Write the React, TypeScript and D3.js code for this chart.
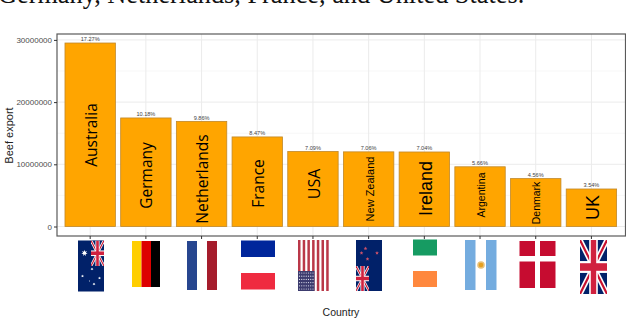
import React, { useEffect, useRef } from 'react';
import * as d3 from 'd3';

const countries = ['Australia', 'Germany', 'Netherlands', 'France', 'USA', 'New Zealand', 'Ireland', 'Argentina', 'Denmark', 'UK'];
const exports_ = [29500000, 17450000, 16900000, 14400000, 12060000, 12000000, 11980000, 9600000, 7700000, 6030000];
const shares = ['17.27%', '10.18%', '9.86%', '8.47%', '7.09%', '7.06%', '7.04%', '5.66%', '4.56%', '3.54%'];
const yTicks = [0, 10000000, 20000000, 30000000];
const yMinor = [5000000, 15000000, 25000000];

// in-bar label look, hand tuned per country like the original
const labelLook: Record<string, { mid: number; size: number; font: string }> = {
  Australia: { mid: 135, size: 15.5, font: 'Open Sans' },
  Germany: { mid: 175.5, size: 15.5, font: 'Open Sans' },
  Netherlands: { mid: 179, size: 15.5, font: 'Open Sans' },
  France: { mid: 183.5, size: 15.5, font: 'Open Sans' },
  USA: { mid: 184, size: 16, font: 'Open Sans' },
  'New Zealand': { mid: 189, size: 11, font: 'Liberation Sans' },
  Ireland: { mid: 188.5, size: 18, font: 'Liberation Sans' },
  Argentina: { mid: 195, size: 10.5, font: 'Liberation Sans' },
  Denmark: { mid: 203, size: 10.5, font: 'Liberation Sans' },
  UK: { mid: 207.5, size: 18, font: 'Liberation Sans' },
};

const W = 626;
const H = 320;
const panel = { left: 57, right: 625.5, top: 34, bottom: 236 };

const star = (cx: number, cy: number, r: number, fill: string, points = 5) => {
  const pts = d3.range(points * 2).map(i => {
    const a = (i * Math.PI) / points - Math.PI / 2;
    const rr = i % 2 ? r * 0.45 : r;
    return `${cx + rr * Math.cos(a)},${cy + rr * Math.sin(a)}`;
  });
  return <polygon points={pts.join(' ')} fill={fill} />;
};

// union jack stretched into a box
const Union = ({ x, y, w, h, id }: { x: number; y: number; w: number; h: number; id: string }) => (
  <g>
    <clipPath id={id}><rect x={x} y={y} width={w} height={h} /></clipPath>
    <g clipPath={`url(#${id})`}>
      <rect x={x} y={y} width={w} height={h} fill="#012169" />
      <line x1={x} y1={y} x2={x + w} y2={y + h} stroke="#fff" strokeWidth={w * 0.2} />
      <line x1={x + w} y1={y} x2={x} y2={y + h} stroke="#fff" strokeWidth={w * 0.2} />
      <line x1={x} y1={y} x2={x + w} y2={y + h} stroke="#c8102e" strokeWidth={w * 0.08} />
      <line x1={x + w} y1={y} x2={x} y2={y + h} stroke="#c8102e" strokeWidth={w * 0.08} />
      <rect x={x + w * 0.34} y={y} width={w * 0.32} height={h} fill="#fff" />
      <rect x={x} y={y + h * 0.39} width={w} height={h * 0.22} fill="#fff" />
      <rect x={x + w * 0.4} y={y} width={w * 0.2} height={h} fill="#d0213f" />
      <rect x={x} y={y + h * 0.43} width={w} height={h * 0.14} fill="#d0213f" />
    </g>
  </g>
);

const flags: Record<string, () => React.ReactNode> = {
  Australia: () => (
    <g>
      <rect x={78} y={240.5} width={26} height={51} fill="#012169" />
      <Union x={91} y={240.5} w={13} h={25.5} id="uAu" />
      {star(84.5, 253, 3.2, '#fff', 7)}
      {star(92, 269, 1.5, '#fff', 7)}
      {star(82.5, 276, 1.5, '#fff', 7)}
      {star(99.5, 278, 1.5, '#fff', 7)}
      {star(94, 284, 1.5, '#fff', 7)}
      {star(89.5, 281, 0.8, '#fff', 5)}
    </g>
  ),
  Germany: () => (
    <g>
      <rect x={132} y={241} width={9.5} height={46} fill="#ffce00" />
      <rect x={141.5} y={241} width={9.5} height={46} fill="#dd0000" />
      <rect x={151} y={241} width={9} height={46} fill="#000" />
    </g>
  ),
  Netherlands: () => (
    <g>
      <rect x={187} y={241} width={10} height={49} fill="#27468f" />
      <rect x={207} y={241} width={10} height={49} fill="#a51c2c" />
    </g>
  ),
  France: () => (
    <g>
      <rect x={241} y={240.5} width={34} height={16.5} fill="#00269b" />
      <rect x={241} y={273} width={34} height={16.5} fill="#ef2b40" />
    </g>
  ),
  USA: () => (
    <g>
      {d3.range(7).map(i => (
        <rect key={i} x={298 + i * 4.7} y={240} width={2.5} height={51} fill="#b22234" opacity={0.9} />
      ))}
      <rect x={298} y={271} width={16.5} height={20} fill="#3c3b6e" />
      {d3.range(6).flatMap(r => d3.range(7).map(c => (
        <circle key={`${r}-${c}`} cx={299.5 + c * 2.25} cy={273 + r * 3.2} r={0.6} fill="#dfe0ee" />
      )))}
    </g>
  ),
  'New Zealand': () => (
    <g>
      <rect x={356} y={240} width={26} height={51} fill="#012169" />
      <Union x={356} y={266} w={13} h={25} id="uNz" />
      {star(365.5, 248.5, 2, '#c8506a')}
      {star(361.5, 253, 2, '#c8506a')}
      {star(377, 253, 2, '#c8506a')}
      {star(367.5, 259, 2, '#c8506a')}
    </g>
  ),
  Ireland: () => (
    <g>
      <rect x={413} y={239.5} width={24} height={16} fill="#169b62" />
      <rect x={413} y={271} width={24} height={16} fill="#ff883e" />
    </g>
  ),
  Argentina: () => (
    <g>
      <rect x={465} y={240} width={10.5} height={50} fill="#74acdf" />
      <rect x={486} y={240} width={10.5} height={50} fill="#74acdf" />
      <circle cx={481} cy={265} r={3.8} fill="#e8c27a" />
      <circle cx={481} cy={265} r={2.3} fill="#e6a020" />
    </g>
  ),
  Denmark: () => (
    <g>
      <rect x={519.5} y={241} width={15.5} height={15} fill="#c60c30" />
      <rect x={540} y={241} width={15.5} height={15} fill="#c60c30" />
      <rect x={519.5} y={261.5} width={15.5} height={26.5} fill="#c60c30" />
      <rect x={540} y={261.5} width={15.5} height={26.5} fill="#c60c30" />
    </g>
  ),
  UK: () => <Union x={580} y={240} w={27} h={54} id="uUk" />,
};

const App = () => {
  const yAxisRef = useRef<SVGGElement>(null);
  const xAxisRef = useRef<SVGGElement>(null);

  const x = d3.scaleBand<string>().domain(countries).range([62.2, 619.4]).paddingInner(0.095).paddingOuter(0.05);
  const y = d3.scaleLinear().domain([0, 30000000]).range([226.5, 39.9]);

  useEffect(() => {
    const ya = d3.select(yAxisRef.current!).call(
      d3.axisLeft(y).tickValues(yTicks).tickFormat(d3.format('d') as any).tickSize(3).tickPadding(2)
    );
    ya.select('.domain').remove();
    ya.selectAll('text').attr('fill', '#4d4d4d').style('font', '8px "Liberation Sans"');
    ya.selectAll('line').attr('stroke', '#333');
    const xa = d3.select(xAxisRef.current!).call(d3.axisBottom(x).tickSize(3).tickFormat(() => ''));
    xa.select('.domain').remove();
    xa.selectAll('line').attr('stroke', '#333');
  }, []);

  return (
    <svg width={W} height={H} style={{ position: 'absolute', left: 0, top: 0 }}>
      <rect width={W} height={H} fill="#fff" />
      <text x={-2} y={3} fontFamily="Liberation Serif" fontSize={26.3} fill="#111">
        Germany, Netherlands, France, and United States.
      </text>

      {yMinor.map(t => (
        <line key={t} x1={panel.left} x2={panel.right} y1={y(t)} y2={y(t)} stroke="#f1f1f1" strokeWidth={0.6} />
      ))}
      {yTicks.map(t => (
        <line key={t} x1={panel.left} x2={panel.right} y1={y(t)} y2={y(t)} stroke="#ebebeb" strokeWidth={1} />
      ))}
      {countries.map(c => (
        <line key={c} x1={x(c)! + x.bandwidth() / 2} x2={x(c)! + x.bandwidth() / 2} y1={panel.top} y2={panel.bottom} stroke="#ebebeb" strokeWidth={1} />
      ))}

      {countries.map((c, i) => (
        <rect key={c} x={x(c)} y={y(exports_[i])} width={x.bandwidth()} height={y(0) - y(exports_[i])}
          fill="#ffa500" stroke="#c0882a" strokeWidth={0.8} />
      ))}

      {countries.map((c, i) => (
        <text key={c} x={x(c)! + x.bandwidth() / 2} y={y(exports_[i]) - 1.6} textAnchor="middle"
          fontFamily="Liberation Sans" fontSize={5.6} fill="#444">{shares[i]}</text>
      ))}

      {countries.map(c => {
        const look = labelLook[c];
        const cx = x(c)! + x.bandwidth() / 2 + 1;
        return (
          <text key={c} transform={`translate(${cx},${look.mid}) rotate(-90)`} textAnchor="middle" dy="0.35em"
            fontFamily={look.font} fontSize={look.size} fill="#000">{c}</text>
        );
      })}

      <rect x={panel.left} y={panel.top} width={panel.right - panel.left} height={panel.bottom - panel.top}
        fill="none" stroke="#5a5a5a" strokeWidth={1.2} />
      <g ref={yAxisRef} transform={`translate(${panel.left},0)`} />
      <g ref={xAxisRef} transform={`translate(0,${panel.bottom})`} />

      {countries.map(c => <g key={c}>{flags[c]()}</g>)}

      <text transform="translate(13,135.5) rotate(-90)" textAnchor="middle" fontFamily="Liberation Sans" fontSize={11} fill="#222">Beef export</text>
      <text x={341} y={316} textAnchor="middle" fontFamily="Liberation Sans" fontSize={10.5} fill="#222">Country</text>
    </svg>
  );
};

export default App;
